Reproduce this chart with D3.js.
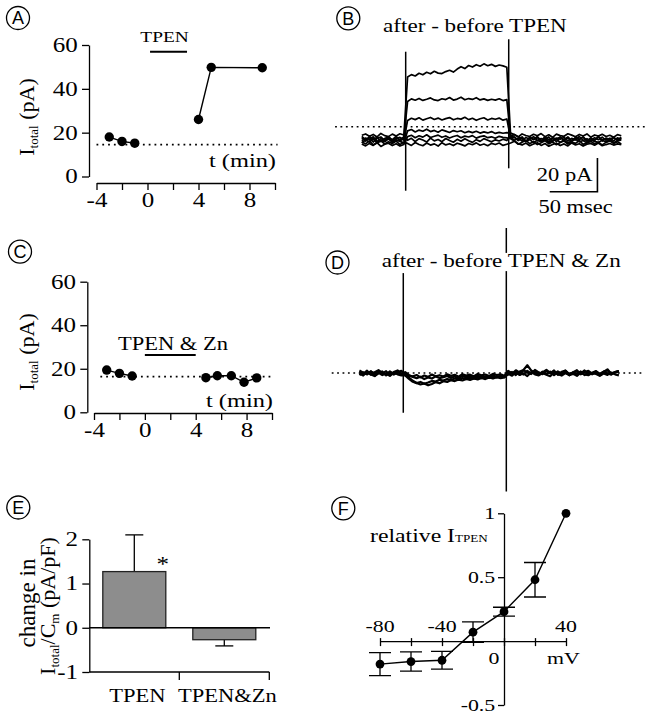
<!DOCTYPE html>
<html><head><meta charset="utf-8">
<script src="https://cdn.jsdelivr.net/npm/d3@7"></script>
<style>body{margin:0;background:#fff}svg{display:block}
.serif{font-family:"Liberation Serif","Times New Roman",Tinos,"DejaVu Serif",serif}
.sans{font-family:"Liberation Sans",Arial,"DejaVu Sans",sans-serif}
</style>
</head><body><svg id="c" width="652" height="720"></svg>
<script>
// ---------------- DATA ----------------
// Panel A (time course, TPEN)
const tA_before = [-3, -2, -1], iA_before = [18, 16, 15.2];
const tA_after = [4, 5, 9], iA_after = [26, 49.8, 49.6];
const baseA = 14.5, baseA_t = [-4, 10.2];
const tpenA = [0.2, 3.1];
const xTicksA = [-4, -2, 0, 2, 4, 6, 8, 10], xLabelsA = [-4, 0, 4, 8], yTicksA = [0, 20, 40, 60];
// Panel C (time course, TPEN & Zn)
const tC_before = [-3, -2, -1], iC_before = [19.4, 17.9, 16.7];
const tC_after = [4.8, 5.7, 6.8, 7.8, 8.8], iC_after = [15.9, 16.8, 16.8, 13.8, 15.8];
const baseC = 16.4, baseC_t = [-3.5, 9.9];
const tpenC = [0, 4];
// Panels B & D: difference current traces (pA), sampled every 4 ms
const tSamples = d3.range(0, 276, 4);
const traceB1 = [].concat([0.8,-1.2,1.5,-0.4,1.1,-1.6,0.3,1.4,-0.9,0.7,-0.3,1.2],
  [36.8,38.2,37.4,39.0,38.1,39.6,38.7,40.2,39.1,38.8,40.0,40.8,39.7,41.5,42.9,41.8,43.6,42.7,44.1,43.2,44.6,43.5,44.3,43.1,43.9,43.4,42.6],
  [2.0,0.9,-0.6,1.3,-1.4,0.7,-0.3,1.5,-1.1,0.4,-1.7,0.9,-0.2,1.2,-0.8,0.6,-1.5,1.0,-0.4,1.3,-1.0,0.3,-0.7,1.4,-1.2,0.5,-0.2,1.0,-0.9,0.4]);
const traceB2 = [].concat([-1.0,0.6,-0.3,1.3,-1.5,0.2,-0.8,1.0,-0.4,1.6,-1.2,0.4],
  [22.3,23.8,23.0,24.1,22.9,23.6,24.4,23.2,22.8,23.9,23.4,24.6,23.1,23.7,24.8,23.3,24.0,23.5,24.5,23.2,23.8,22.9,23.6,23.1,23.9,22.8,23.4],
  [1.1,-0.7,0.5,-1.3,0.9,-0.2,1.4,-1.0,0.3,-0.6,1.2,-1.4,0.6,-0.1,1.0,-1.2,0.4,-0.5,1.5,-0.9,0.2,-1.3,0.8,-0.4,1.1,-0.8,0.5,-1.1,0.7,-0.3]);
const traceB3 = [].concat([1.6,-0.5,0.9,-1.8,0.4,1.2,-1.0,0.6,-1.5,0.2,1.0,-0.7],
  [11.0,12.3,11.5,12.6,11.2,12.0,12.8,11.6,12.4,11.3,12.1,12.7,11.4,12.2,11.8,12.9,11.5,12.3,11.1,12.0,12.6,11.3,12.2,11.7,12.4,11.2,11.9],
  [0.5,1.2,-0.9,0.4,-1.5,1.0,-0.3,0.8,-1.2,1.4,-0.6,0.2,-1.6,0.9,-0.4,1.2,-1.0,0.5,-0.2,1.1,-1.4,0.6,-0.8,1.3,-0.5,0.2,-1.1,0.8,-0.6,1.0]);
const traceB4 = [].concat([-2.2,-0.6,-1.8,0.4,-2.5,-0.9,-1.6,0.1,-2.0,-0.5,-1.4,-2.3],
  [4.8,5.6,4.2,5.3,4.6,5.8,4.4,5.1,4.0,5.4,4.7,3.9,5.0,4.3,4.9,3.7,4.5,3.8,4.6,3.5,4.2,3.6,4.4,3.3,3.9,3.4,3.8],
  [3.5,2.6,1.4,0.2,-1.3,-0.4,-2.1,-0.8,-1.6,0.0,-2.2,-1.0,-0.3,-1.9,-0.6,-2.4,-1.1,-0.2,-1.7,-0.9,-2.3,-0.5,-1.4,-2.0,-0.7,-1.8,-0.4,-2.1,-1.2,-0.6]);
const traceB5 = [].concat([-3.0,-4.1,-2.6,-3.8,-2.2,-4.4,-3.1,-2.5,-3.9,-2.8,-4.2,-3.3],
  [1.4,2.2,0.8,1.9,1.1,2.5,0.9,1.6,2.3,1.0,1.8,0.6,1.5,2.1,0.7,1.7,1.2,2.0,0.5,1.4,1.9,0.8,1.3,0.4,1.6,1.0,0.7],
  [0.2,-1.2,-2.8,-3.6,-2.4,-4.0,-3.0,-2.2,-3.8,-2.7,-4.3,-3.2,-2.5,-3.9,-2.9,-4.1,-2.3,-3.5,-2.8,-4.2,-3.1,-2.6,-3.7,-2.4,-4.0,-3.3,-2.7,-3.6,-2.9,-3.4]);
const traceB6 = [].concat([2.2,3.0,1.6,2.7,1.2,3.3,2.0,1.4,2.9,1.8,3.1,2.4],
  [-0.8,0.4,-1.5,0.2,-0.6,-1.8,0.5,-1.1,-0.3,-1.6,0.3,-0.9,-1.9,-0.2,-1.3,0.1,-1.0,-2.0,-0.4,-1.4,0.2,-0.7,-1.7,-0.5,-1.2,-0.1,-0.9],
  [1.8,2.6,1.2,3.0,2.1,1.5,2.8,1.9,3.2,1.4,2.5,1.0,2.9,2.0,1.6,3.1,2.3,1.3,2.7,1.8,3.0,1.1,2.4,1.7,2.8,1.5,2.2,1.0,2.6,1.9]);
const traceB7 = [].concat([-1.8,-2.9,-1.1,-3.4,-2.2,-0.9,-3.0,-1.6,-2.7,-1.2,-3.3,-2.0],
  [-2.6,-3.8,-2.1,-3.3,-4.0,-2.4,-3.6,-2.9,-4.2,-2.2,-3.5,-2.8,-3.9,-2.5,-3.2,-4.1,-2.7,-3.4,-2.3,-3.7,-3.0,-4.0,-2.6,-3.3,-2.4,-3.8,-3.1],
  [-2.4,-1.3,-3.1,-2.0,-0.8,-2.8,-1.5,-3.3,-2.2,-1.0,-2.9,-1.7,-3.4,-2.1,-1.2,-3.0,-1.8,-2.6,-0.9,-3.2,-2.3,-1.4,-2.8,-1.9,-3.5,-2.0,-1.1,-2.7,-1.6,-3.0]);
const tracesB = [traceB1, traceB2, traceB3, traceB4, traceB5, traceB6, traceB7];
const spikesB = [{t: 46, lo: -30.7, hi: 51.8}, {t: 154, lo: -17.4, hi: 59.2}];
const dotB = 7.3, dotB_t = [-28, 298];
const scaleBarB = {t: 197, i: -31.3, dt: 50, di: 20};

const traceD1 = [].concat([0.8,-0.6,1.4,-1.0,0.5,1.7,-0.4,1.1,-1.3,0.6,1.5,-0.2],
  [-1.0,-2.8,-4.6,-5.9,-6.8,-6.2,-7.3,-6.5,-5.4,-6.1,-4.9,-5.3,-4.2,-4.8,-3.9,-4.4,-3.5,-4.1,-3.2,-3.8,-3.0,-3.6,-2.7,-3.3,-2.5,-3.1,-2.6],
  [0.9,-0.5,1.6,0.2,-0.9,1.3,-0.3,1.8,0.4,-0.7,1.2,-0.2,1.5,-1.1,0.7,1.4,-0.6,0.3,1.7,-0.8,0.6,1.3,-0.4,1.0,-1.0,0.8,1.5,-0.3,0.5,1.2]);
const traceD2 = [].concat([-1.2,0.4,-0.7,1.0,-1.6,-0.2,0.9,-1.4,0.3,-0.9,0.7,-1.1],
  [0.5,-1.3,-2.4,-3.1,-2.2,-3.6,-2.7,-3.3,-2.0,-3.0,-2.5,-1.8,-2.9,-2.1,-3.2,-1.7,-2.6,-2.0,-2.8,-1.6,-2.4,-1.9,-2.7,-1.5,-2.2,-1.8,-2.3],
  [-0.8,0.6,-1.2,0.9,1.8,4.6,1.5,0.2,-0.9,0.8,-0.6,0.8,-1.3,0.4,-0.7,1.0,-1.4,0.1,-0.5,0.9,-1.2,0.6,-0.8,0.3,-1.5,0.7,-0.2,-1.0,0.5,1.1]);
const traceD3 = [].concat([1.5,0.2,-0.8,0.9,-0.3,1.2,0.4,-1.0,1.0,-0.5,0.3,1.3],
  [-0.4,-1.6,-2.0,-1.2,-2.6,-1.5,-2.3,-0.9,-1.9,-1.3,-2.1,-0.8,-1.7,-1.1,-2.2,-0.7,-1.5,-1.0,-1.9,-0.6,-1.4,-0.9,-1.8,-0.5,-1.2,-0.8,-1.6],
  [1.3,-0.2,0.8,-1.1,1.6,0.5,-0.6,1.2,-0.9,0.4,1.9,0.1,-0.7,1.0,-0.4,1.4,-1.2,0.6,0.9,-0.3,1.5,-0.8,0.2,1.1,-0.5,0.7,2.2,-0.6,0.4,1.0]);
const traceD4 = [].concat([-0.3,-1.5,0.6,-0.9,-1.8,0.1,-1.2,-0.4,-1.7,0.2,-0.8,-1.4],
  [-1.4,-3.5,-5.2,-6.0,-5.3,-6.4,-5.6,-4.7,-5.1,-4.0,-4.5,-3.6,-4.2,-3.3,-3.9,-3.0,-3.6,-2.8,-3.4,-2.6,-3.1,-2.4,-2.9,-2.2,-2.7,-2.1,-2.5],
  [-0.6,-1.6,0.3,-1.1,-0.2,-1.8,0.5,-0.8,-1.4,0.0,-1.0,-1.9,0.4,-0.7,-1.5,-0.1,-1.2,-0.5,-1.7,0.2,-0.9,-1.3,0.1,-0.6,-1.6,-0.3,-1.1,0.3,-0.8,-1.4]);
const tracesD = [traceD1, traceD2, traceD3, traceD4];
const spikesD = [{t: 46, lo: -23.6, hi: 59.3}, {t: 154, lo: -70.4, hi: 86.0}];
const dotD = 0, dotD_t = [-29, 297];

// Panel E: bar chart
const catsE = ["TPEN", "TPEN&Zn"];
const meanE = [1.27, -0.27];
const errE = [0.83, 0.14];
const yTicksE = [-1, 0, 1, 2];
// Panel F: I-V relation
const mvF = [-80, -60, -40, -20, 0, 20, 40];
const relF = [-0.18, -0.16, -0.15, 0.07, 0.23, 0.48, 1.0];
const errF = [0.09, 0.075, 0.07, 0.08, 0.035, 0.135, 0];
const xTicksF = [-80, -60, -40, -20, 0, 20, 40], xLabelsF = [-80, -40, 40];
const yTicksF = [-0.5, 0.5, 1];

// ---------------- DRAWING ----------------
const SX = 1.25;
const svg = d3.select('#c');
svg.append('rect').attr('width', 652).attr('height', 720).attr('fill', '#fff');

function stext(x, y, str, size, anchor) {
  return svg.append('text').attr('class', 'serif')
    .attr('transform', `translate(${x},${y}) scale(${SX},1)`)
    .attr('font-size', size).attr('text-anchor', anchor || 'start')
    .attr('fill', '#000').text(str);
}
function styleAxis(g, size) {
  g.attr('font-family', null).attr('font-size', null);
  g.select('.domain').attr('stroke', '#000').attr('stroke-width', 1.3);
  g.selectAll('.tick line').attr('stroke', '#000').attr('stroke-width', 1.3);
  g.selectAll('.tick text').attr('class', 'serif').attr('font-size', size).attr('fill', '#000')
    .attr('transform', `scale(${SX},1)`);
}
function circleLabel(cx, cy, letter) {
  svg.append('circle').attr('cx', cx).attr('cy', cy).attr('r', 11.5)
    .attr('fill', 'none').attr('stroke', '#000').attr('stroke-width', 1.3);
  svg.append('text').attr('class', 'sans').attr('x', cx).attr('y', cy).attr('dy', '0.36em')
    .attr('text-anchor', 'middle').attr('font-size', 18).text(letter);
}
function ylabelItotal(x, cy) {
  const t = svg.append('text').attr('class', 'serif').attr('transform', `translate(${x},${cy}) rotate(-90)`)
    .attr('font-size', 22).attr('text-anchor', 'middle');
  t.append('tspan').text('I');
  t.append('tspan').attr('font-size', 13).attr('dy', 4).text('total');
  t.append('tspan').attr('dy', -4).text(' (pA)');
}

// ---- time course panels (A, C) ----
function timeCourse(o) {
  const x = d3.scaleLinear().domain([-4, 10]).range(o.xr);
  const y = d3.scaleLinear().domain([0, 60]).range(o.yr);
  const gy = svg.append('g').attr('transform', `translate(${o.yAxisX},0)`)
    .call(d3.axisLeft(y).tickValues(yTicksA).tickSize(7).tickSizeOuter(0).tickPadding(2));
  styleAxis(gy, 20);
  const gx = svg.append('g').attr('transform', `translate(0,${o.xAxisY})`)
    .call(d3.axisBottom(x).tickValues(xTicksA).tickSize(7).tickSizeOuter(0).tickPadding(3)
      .tickFormat(d => xLabelsA.includes(d) ? String(d) : ''));
  styleAxis(gx, 20);
  svg.append('line').attr('x1', x(o.baseT[0])).attr('x2', x(o.baseT[1]))
    .attr('y1', y(o.base)).attr('y2', y(o.base))
    .attr('stroke', '#000').attr('stroke-width', 1.8).attr('stroke-dasharray', '1.8,4');
  const line = d3.line().x(d => x(d[0])).y(d => y(d[1]));
  o.groups.forEach(gr => {
    const pts = gr[0].map((t, i) => [t, gr[1][i]]);
    svg.append('path').attr('d', line(pts)).attr('fill', 'none').attr('stroke', '#000').attr('stroke-width', 1.4);
    svg.selectAll(null).data(pts).enter().append('circle')
      .attr('cx', d => x(d[0])).attr('cy', d => y(d[1])).attr('r', 4.7).attr('fill', '#000');
  });
  svg.append('line').attr('x1', x(o.bar[0])).attr('x2', x(o.bar[1]))
    .attr('y1', o.barY).attr('y2', o.barY).attr('stroke', '#000').attr('stroke-width', 2);
  return {x, y};
}

const A = timeCourse({xr: [96.5, 275], yr: [176.5, 45], yAxisX: 89, xAxisY: 183,
  base: baseA, baseT: baseA_t, groups: [[tA_before, iA_before], [tA_after, iA_after]],
  bar: tpenA, barY: 51.7});
stext(164.5, 42, 'TPEN', 15.5, 'middle');
stext(276, 167, 't (min)', 19.5, 'end');
ylabelItotal(33.5, 117);
circleLabel(18, 18, 'A');

const C = timeCourse({xr: [94, 272], yr: [412.3, 281.7], yAxisX: 87.3, xAxisY: 413,
  base: baseC, baseT: baseC_t, groups: [[tC_before, iC_before], [tC_after, iC_after]],
  bar: tpenC, barY: 355});
stext(118, 350, 'TPEN & Zn', 18, 'start');
stext(273, 406.7, 't (min)', 19.5, 'end');
ylabelItotal(33.5, 352);
circleLabel(20, 251.7, 'C');

// ---- trace panels (B, D) ----
function tracePanel(o) {
  const x = d3.scaleLinear().domain([0, 275]).range([o.x0, o.x0 + 275 * 0.954]);
  const y = d3.scaleLinear().domain([0, 20]).range([o.y0, o.y0 - 33.7]);
  svg.append('line').attr('x1', x(o.dotT[0])).attr('x2', x(o.dotT[1]))
    .attr('y1', y(o.dot)).attr('y2', y(o.dot))
    .attr('stroke', '#000').attr('stroke-width', 1.6).attr('stroke-dasharray', '1.8,3.6');
  const line = d3.line().x((d, i) => x(tSamples[i])).y(d => y(d));
  o.traces.forEach(tr => {
    svg.append('path').attr('d', line(tr)).attr('fill', 'none').attr('stroke', '#000')
      .attr('stroke-width', o.sw).attr('stroke-linejoin', 'round');
  });
  o.spikes.forEach(s => {
    svg.append('line').attr('x1', x(s.t)).attr('x2', x(s.t)).attr('y1', y(s.lo)).attr('y2', y(s.hi))
      .attr('stroke', '#000').attr('stroke-width', 1.5);
  });
  return {x, y};
}
const B = tracePanel({x0: 361.8, y0: 139, traces: tracesB, spikes: spikesB, dot: dotB, dotT: dotB_t, sw: 1.7});
{
  const sb = scaleBarB;
  const xs = B.x(sb.t), xe = B.x(sb.t + sb.dt), yb = B.y(sb.i), yt = B.y(sb.i + sb.di);
  svg.append('path').attr('d', `M${xs},${yb}H${xe}V${yt}`).attr('fill', 'none')
    .attr('stroke', '#000').attr('stroke-width', 1.6);
  stext(xe - 5, (yb + yt) / 2 + 6, '20 pA', 18, 'end');
  stext((xs + xe) / 2 + 2, yb + 21, '50 msec', 18, 'middle');
}
stext(383, 32, 'after - before TPEN', 18.5, 'start');
circleLabel(348.3, 18.3, 'B');

const D = tracePanel({x0: 359.4, y0: 373, traces: tracesD, spikes: spikesD, dot: dotD, dotT: dotD_t, sw: 2.2});
{
  const t = stext(381.7, 266.7, 'after - before TPEN & Zn', 18.5, 'start');
  const bb = t.node().getBBox();
  svg.insert('rect', () => t.node()).attr('x', 381.7 + bb.x * SX - 2).attr('y', 266.7 + bb.y + 3)
    .attr('width', bb.width * SX + 4).attr('height', bb.height - 3).attr('fill', '#fff');
}
circleLabel(337.5, 262.5, 'D');

// ---- Panel E ----
{
  const y = d3.scaleLinear().domain([-1, 2]).range([672, 539.3]);
  const x = d3.scaleBand().domain(catsE).range([89.3, 269.3]).paddingInner(0.3).paddingOuter(0.15);
  const gy = svg.append('g').attr('transform', 'translate(89.3,0)')
    .call(d3.axisLeft(y).tickValues(yTicksE).tickSize(7).tickSizeOuter(0).tickPadding(2).tickFormat(d => String(d)));
  styleAxis(gy, 20);
  svg.append('line').attr('x1', 89.3).attr('x2', 269.3).attr('y1', y(-1)).attr('y2', y(-1))
    .attr('stroke', '#000').attr('stroke-width', 1.3);
  catsE.forEach(c => {
    const xb = x(c) + x.bandwidth() + x.step() * x.paddingInner() / 2;
    svg.append('line').attr('x1', xb).attr('x2', xb).attr('y1', y(-1)).attr('y2', y(-1) + 8)
      .attr('stroke', '#000').attr('stroke-width', 1.3);
  });
  catsE.forEach((c, i) => {
    const cx = x(c) + x.bandwidth() / 2;
    const m = meanE[i], e = m >= 0 ? m + errE[i] : m - errE[i];
    svg.append('line').attr('x1', cx).attr('x2', cx).attr('y1', y(m)).attr('y2', y(e))
      .attr('stroke', '#000').attr('stroke-width', 1.3);
    svg.append('line').attr('x1', cx - 9).attr('x2', cx + 9).attr('y1', y(e)).attr('y2', y(e))
      .attr('stroke', '#000').attr('stroke-width', 1.3);
  });
  svg.selectAll(null).data(catsE).enter().append('rect')
    .attr('x', d => x(d)).attr('width', x.bandwidth())
    .attr('y', (d, i) => y(Math.max(0, meanE[i])))
    .attr('height', (d, i) => Math.abs(y(meanE[i]) - y(0)))
    .attr('fill', '#8d8d8d').attr('stroke', '#222').attr('stroke-width', 1.3);
  svg.append('line').attr('x1', 89.3).attr('x2', 270).attr('y1', y(0)).attr('y2', y(0))
    .attr('stroke', '#000').attr('stroke-width', 1.3);
  stext(x('TPEN') + x.bandwidth() - 3, y(meanE[0]) - 1, '*', 20, 'middle');
  catsE.forEach(c => stext(x(c) + x.bandwidth() / 2 + 3, 701.7, c, 18, 'middle'));
  svg.append('text').attr('class', 'serif').attr('transform', 'translate(35,603) rotate(-90)')
    .attr('font-size', 23).attr('text-anchor', 'middle').text('change in');
  const t2 = svg.append('text').attr('class', 'serif').attr('transform', 'translate(55,606) rotate(-90)')
    .attr('font-size', 22).attr('text-anchor', 'middle');
  t2.append('tspan').text('I');
  t2.append('tspan').attr('font-size', 13).attr('dy', 4).text('total');
  t2.append('tspan').attr('dy', -4).text('/C');
  t2.append('tspan').attr('font-size', 13).attr('dy', 4).text('m');
  t2.append('tspan').attr('dy', -4).text(' (pA/pF)');
  circleLabel(18.3, 507.5, 'E');
}

// ---- Panel F ----
{
  const x = d3.scaleLinear().domain([-80, 40]).range([380, 566]);
  const y = d3.scaleLinear().domain([-0.5, 1]).range([705, 513.3]);
  const gx = svg.append('g').attr('transform', `translate(0,${y(0)})`)
    .call(d3.axisBottom(x).tickValues(xTicksF).tickSize(5).tickSizeOuter(0).tickFormat(''));
  styleAxis(gx, 17.5);
  gx.selectAll('.tick line').attr('y1', -3);
  const gy = svg.append('g').attr('transform', `translate(${x(0)},0)`)
    .call(d3.axisLeft(y).tickValues(yTicksF).tickSize(6).tickSizeOuter(0).tickPadding(1).tickFormat(d => String(d)));
  styleAxis(gy, 17.5);
  xLabelsF.forEach(v => stext(x(v), y(0) - 9, String(v), 17.5, 'middle'));
  stext(x(0) - 10, y(0) + 23, '0', 17.5, 'middle');
  stext(547, y(0) + 23, 'mV', 17.5, 'start');
  const pts = mvF.map((v, i) => [v, relF[i], errF[i]]);
  pts.filter(d => d[2] > 0).forEach(d => {
    const cx = x(d[0]);
    svg.append('path').attr('d', `M${cx},${y(d[1] - d[2])}V${y(d[1] + d[2])}M${cx - 11},${y(d[1] + d[2])}h22M${cx - 11},${y(d[1] - d[2])}h22`)
      .attr('fill', 'none').attr('stroke', '#000').attr('stroke-width', 1.3);
  });
  svg.append('path').attr('d', d3.line().x(d => x(d[0])).y(d => y(d[1]))(pts))
    .attr('fill', 'none').attr('stroke', '#000').attr('stroke-width', 1.4);
  svg.selectAll(null).data(pts).enter().append('circle')
    .attr('cx', d => x(d[0])).attr('cy', d => y(d[1])).attr('r', 4.4).attr('fill', '#000');
  const t = stext(370, 541.7, 'relative I', 19, 'start');
  t.append('tspan').attr('font-size', 10.5).text('TPEN');
  circleLabel(343.3, 508.3, 'F');
}
</script>
</body></html>
